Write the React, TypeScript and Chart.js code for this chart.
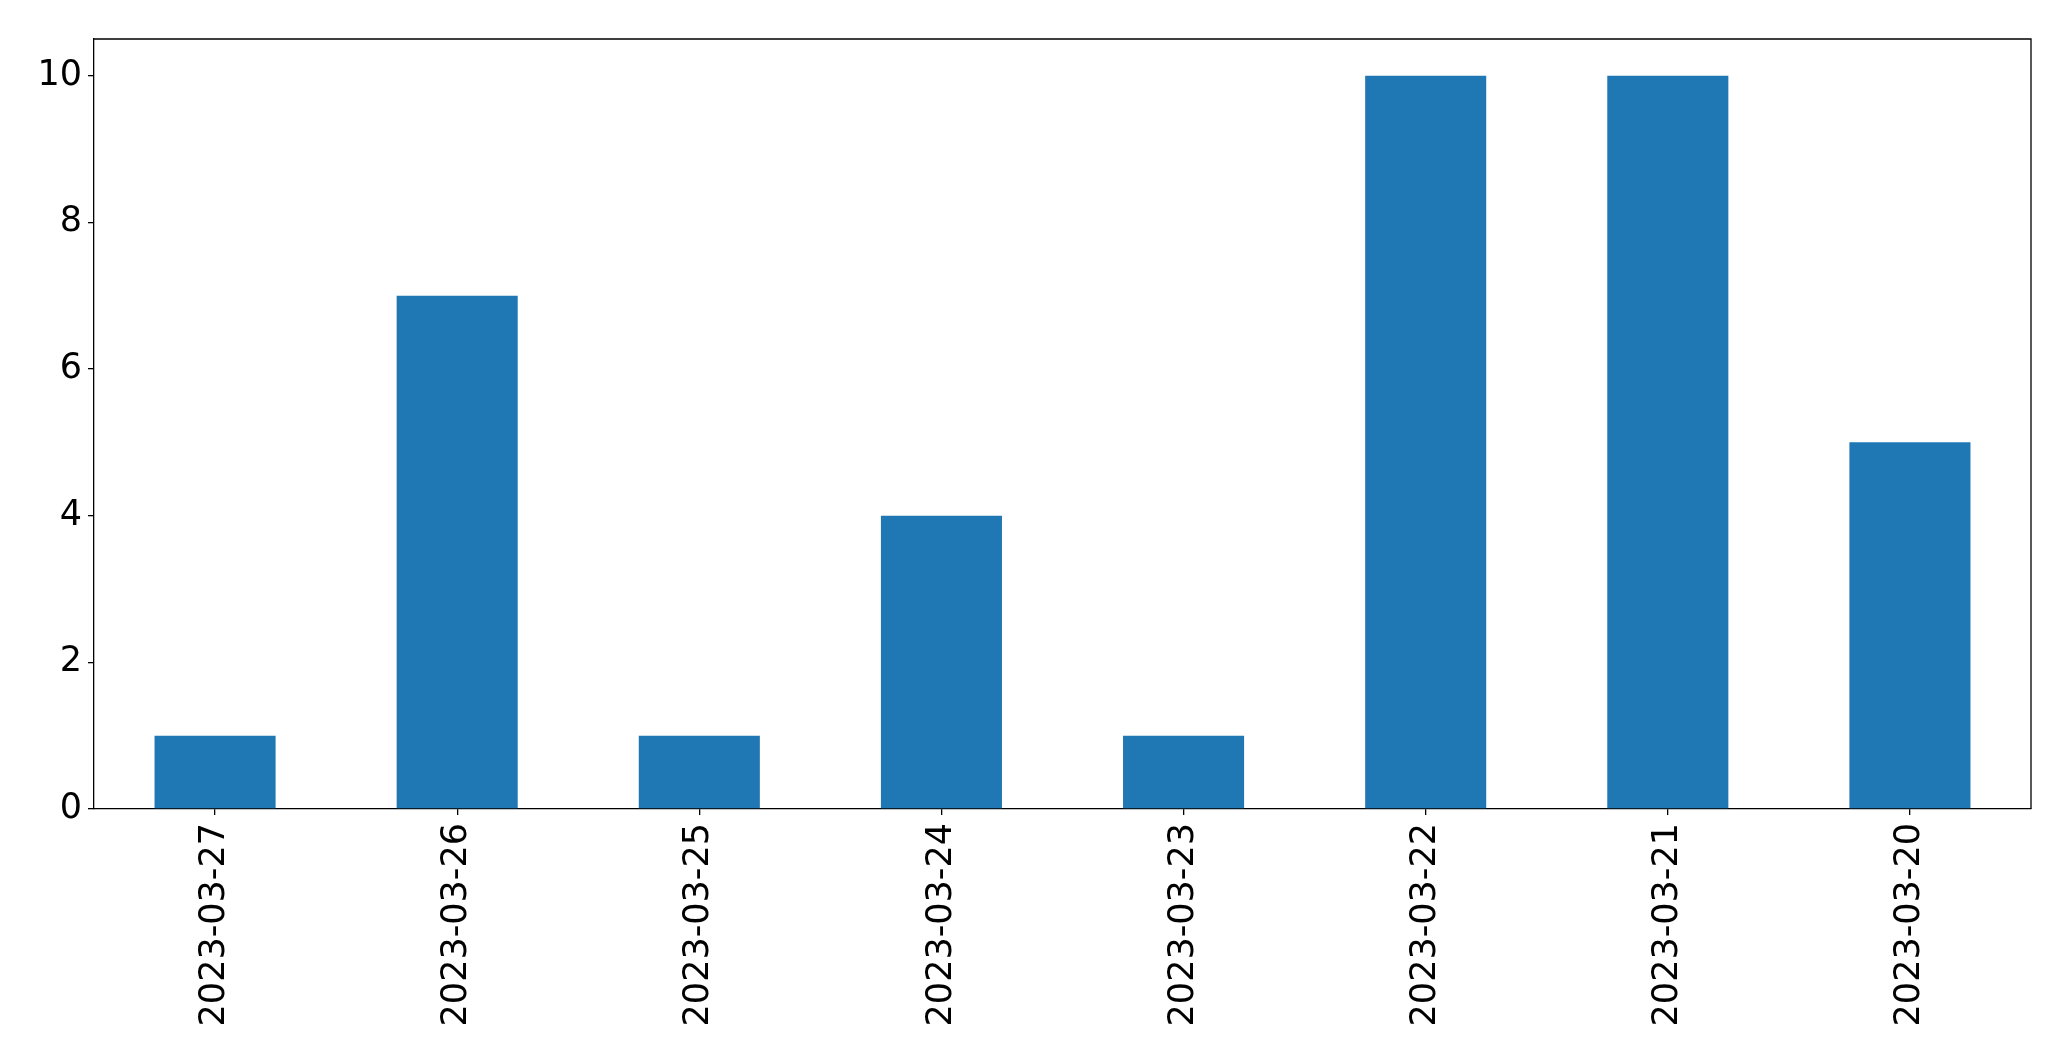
import React, { useEffect, useRef } from "react";
import { Chart, registerables } from "chart.js";

Chart.register(...registerables);

const categories = ["2023-03-27", "2023-03-26", "2023-03-25", "2023-03-24", "2023-03-23", "2023-03-22", "2023-03-21", "2023-03-20"];
const counts = [1, 7, 1, 4, 1, 10, 10, 5];
const yTicks = [0, 2, 4, 6, 8, 10];
const yMax = 10.5;

const W = 2071;
const H = 1061;
const FONT = "'DejaVu Sans', sans-serif";

const framePlugin = {
  id: "frame",
  afterDraw(chart: any) {
    const { ctx, chartArea } = chart;
    ctx.save();
    ctx.strokeStyle = "#000";
    ctx.lineWidth = 1.3;
    ctx.beginPath();
    ctx.moveTo(chartArea.left, chartArea.top);
    ctx.lineTo(chartArea.right, chartArea.top);
    ctx.lineTo(chartArea.right, chartArea.bottom);
    ctx.stroke();
    ctx.restore();
  },
};

export default function App() {
  const ref = useRef<HTMLCanvasElement>(null);
  useEffect(() => {
    document.body.style.margin = "0";
    const chart = new Chart(ref.current!, {
      type: "bar",
      data: {
        labels: categories,
        datasets: [
          {
            data: counts,
            backgroundColor: "#1f77b4",
            borderWidth: 0,
            barPercentage: 0.5,
            categoryPercentage: 1,
          },
        ],
      },
      options: {
        animation: false,
        responsive: false,
        maintainAspectRatio: false,
        layout: { padding: { left: 0, top: 39, right: 40, bottom: 0 } },
        plugins: { legend: { display: false }, tooltip: { enabled: false } },
        scales: {
          x: {
            offset: true,
            grid: { display: true, offset: false, drawOnChartArea: false, drawTicks: true, tickLength: 6, color: "#000", lineWidth: 1.3 },
            border: { display: true, color: "#000", width: 1.3 },
            ticks: {
              minRotation: 90,
              maxRotation: 90,
              autoSkip: false,
              padding: 8,
              color: "#000",
              font: { family: FONT, size: 35 },
            },
            afterFit(scale: any) {
              scale.height = H - 809;
            },
          },
          y: {
            min: 0,
            max: yMax,
            grid: { display: true, drawOnChartArea: false, drawTicks: true, tickLength: 6, color: "#000", lineWidth: 1.3 },
            border: { display: true, color: "#000", width: 1.3 },
            afterBuildTicks(scale: any) {
              scale.ticks = yTicks.map((v) => ({ value: v }));
            },
            ticks: {
              padding: 6,
              color: "#000",
              font: { family: FONT, size: 35 },
            },
            afterFit(scale: any) {
              scale.width = 94;
            },
          },
        },
      },
      plugins: [framePlugin],
    });
    return () => chart.destroy();
  }, []);
  return (
    <div style={{ position: "absolute", left: 0, top: 0, width: W, height: H, background: "#fff" }}>
      <canvas ref={ref} width={W} height={H} style={{ width: W, height: H, display: "block" }} />
    </div>
  );
}
